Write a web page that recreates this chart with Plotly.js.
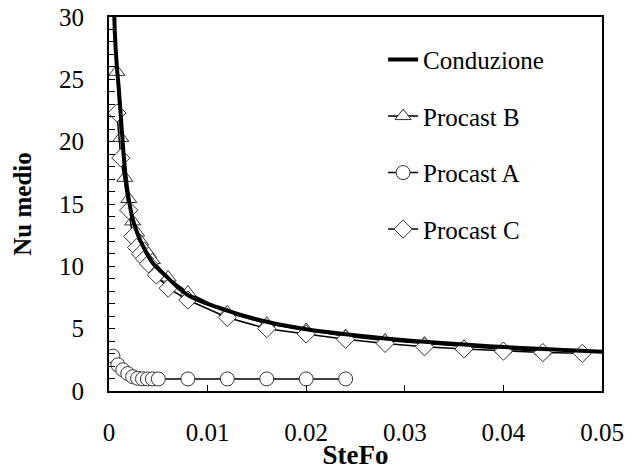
<!DOCTYPE html>
<html>
<head>
<meta charset="utf-8">
<script src="https://cdn.plot.ly/plotly-3.0.1.min.js"></script>
<style>html,body{margin:0;padding:0;background:#fff;}#chart{width:643px;height:470px;}</style>
</head>
<body>
<div id="chart"></div>
<script>
// Conduzione (smooth curve)
var condX = [0.0005, 0.0006, 0.0008, 0.001, 0.0013, 0.0016, 0.0019, 0.0024, 0.003, 0.0034, 0.0044, 0.0058, 0.008, 0.012, 0.016, 0.02, 0.024, 0.028, 0.032, 0.036, 0.04, 0.044, 0.05];
var condY = [31.5, 28.6, 26.0, 24.2, 20.9, 17.9, 15.9, 13.8, 12.4, 11.7, 10.3, 9.2, 7.7, 6.45, 5.55, 4.95, 4.55, 4.22, 3.95, 3.72, 3.53, 3.37, 3.14];

// Procast B (triangles)
var bX = [0.0008, 0.0012, 0.0016, 0.002, 0.0024, 0.0028, 0.0032, 0.0036, 0.004, 0.0044, 0.006, 0.008, 0.012, 0.016, 0.02, 0.024, 0.028, 0.032, 0.036, 0.04, 0.044];
var bY = [25.6, 20.3, 17.1, 15.4, 13.6, 12.7, 12.0, 11.4, 11.0, 10.5, 9.1, 7.9, 6.3, 5.4, 4.9, 4.4, 4.05, 3.8, 3.55, 3.35, 3.2];

// Procast A (circles)
var aX = [0.0004, 0.0009, 0.0014, 0.0019, 0.0024, 0.0029, 0.0034, 0.0039, 0.0044, 0.005, 0.008, 0.012, 0.016, 0.02, 0.024];
var aY = [2.8, 2.1, 1.7, 1.4, 1.15, 1.02, 0.98, 0.97, 0.97, 0.97, 0.97, 0.97, 0.97, 0.97, 0.97];

// Procast C (diamonds)
var cX = [0.0008, 0.0012, 0.002, 0.0024, 0.0028, 0.0032, 0.0036, 0.004, 0.0048, 0.006, 0.008, 0.012, 0.016, 0.02, 0.024, 0.028, 0.032, 0.036, 0.04, 0.044, 0.048];
var cY = [22.3, 18.7, 14.5, 12.4, 11.5, 11.0, 10.6, 10.2, 9.3, 8.25, 7.3, 5.9, 5.0, 4.57, 4.15, 3.82, 3.55, 3.37, 3.2, 3.08, 3.02];

var names = ["Conduzione", "Procast B", "Procast A", "Procast C"];
var yTickVals = [0, 5, 10, 15, 20, 25, 30];
var xTickVals = [0, 0.01, 0.02, 0.03, 0.04, 0.05];
var xTickText = ["0", "0.01", "0.02", "0.03", "0.04", "0.05"];

var FONT = "'Liberation Serif', 'Times New Roman', Times, serif";
var mk = function (sym) {
  return {symbol: sym, size: 14, color: "#ffffff", line: {color: "#333333", width: 1}};
};

var data = [
  {x: bX, y: bY, name: names[1], mode: "lines+markers", legendgroup: "b", legendrank: 2,
   line: {color: "#000", width: 1.5}, marker: mk("triangle-up")},
  {x: aX, y: aY, name: names[2], mode: "lines+markers", legendgroup: "a", legendrank: 3,
   line: {color: "#000", width: 1.5}, marker: mk("circle")},
  {x: cX, y: cY, name: names[3], mode: "lines+markers", legendgroup: "c", legendrank: 4,
   line: {color: "#000", width: 1.5}, marker: mk("diamond")},
  {x: condX, y: condY, name: names[0], mode: "lines", legendgroup: "k", legendrank: 1,
   line: {color: "#000", width: 4, shape: "spline"}}
];

var layout = {
  width: 643, height: 470,
  margin: {l: 109, r: 41, t: 17, b: 79},
  paper_bgcolor: "#fff", plot_bgcolor: "#fff",
  font: {family: FONT, size: 25, color: "#000"},
  showlegend: true,
  legend: {x: 0.556, y: 0.947, xanchor: "left", yanchor: "top", bgcolor: "rgba(0,0,0,0)",
           font: {family: FONT, size: 25, color: "#000"}, tracegroupgap: 21, traceorder: "grouped"},
  xaxis: {
    range: [0, 0.05], tickvals: xTickVals, ticktext: xTickText,
    ticks: "inside", ticklen: 6, tickwidth: 1, tickcolor: "#000",
    showline: true, linewidth: 2, linecolor: "#000", mirror: true,
    showgrid: false, zeroline: false, ticklabelstandoff: 18,
    tickfont: {family: FONT, size: 25, color: "#000"},
    title: {text: "<b>SteFo</b>", font: {family: FONT, size: 27, color: "#000"}, standoff: 2}
  },
  yaxis: {
    range: [0, 30], tickvals: yTickVals,
    ticks: "inside", ticklen: 6, tickwidth: 1, tickcolor: "#000",
    minor: {dtick: 1, ticks: "inside", ticklen: 6, tickwidth: 1, tickcolor: "#000"},
    showline: true, linewidth: 2, linecolor: "#000", mirror: true,
    showgrid: false, zeroline: false, ticklabelstandoff: 18,
    tickfont: {family: FONT, size: 25, color: "#000"},
    title: {text: "<b>Nu medio</b>", font: {family: FONT, size: 25, color: "#000"}, standoff: 20}
  }
};

Plotly.newPlot("chart", data, layout, {staticPlot: true, displayModeBar: false});
</script>
</body>
</html>
